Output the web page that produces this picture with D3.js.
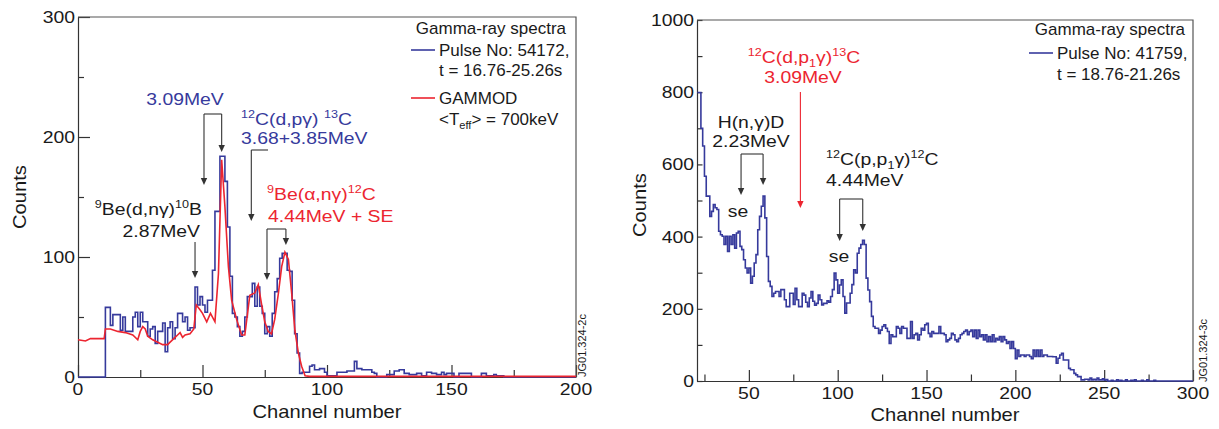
<!DOCTYPE html>
<html>
<head>
<meta charset="utf-8">
<script src="https://cdn.jsdelivr.net/npm/d3@7"></script>
<style>
  body { margin: 0; background: #fff; }
  svg { display: block; font-family: "Liberation Sans", Arial, Helvetica, sans-serif; }
</style>
</head>
<body>
<svg id="chart" width="1219" height="429"></svg>
<script>
// left panel: pulse 54172, one value per channel, channel 0..199
const leftCounts = [
  0, 0, 0, 0, 0, 0, 0, 0, 0, 0,
  0, 58, 58, 43, 52, 52, 52, 39, 50, 38,
  38, 38, 50, 54, 42, 54, 46, 46, 34, 40,
  42, 28, 38, 38, 45, 21, 41, 46, 32, 41,
  53, 53, 46, 50, 39, 41, 41, 75, 60, 67,
  60, 54, 64, 64, 89, 138, 138, 184, 184, 163,
  125, 84, 53, 50, 42, 34, 38, 50, 67, 67,
  78, 59, 75, 59, 53, 36, 42, 34, 53, 71,
  82, 99, 103, 103, 89, 88, 64, 36, 20, 3,
  4, 4, 4, 9, 10, 6, 6, 7, 7, 4,
  1, 1, 1, 1, 4, 4, 4, 4, 5, 5,
  5, 13, 7, 7, 6, 6, 6, 6, 4, 3,
  0, 0, 0, 0, 2, 2, 2, 5, 5, 6,
  6, 3, 3, 2, 2, 2, 3, 3, 1, 1,
  4, 4, 3, 3, 2, 2, 4, 2, 3, 3,
  3, 0, 0, 3, 3, 3, 3, 3, 0, 0,
  0, 0, 3, 3, 1, 1, 1, 2, 1, 1,
  1, 0, 0, 0, 0, 0, 0, 0, 0, 0,
  0, 0, 0, 0, 0, 0, 0, 0, 0, 0,
  0, 0, 0, 0, 0, 0, 0, 0, 0, 0
]

// GAMMOD model curve
const gammodChannels = [0, 3, 5, 8, 10.5, 11, 13, 16, 19, 22, 24, 25, 26, 27, 28, 30, 32, 34, 36, 37,
  39, 40, 41, 42, 43, 45, 46.5, 47.5, 49, 50, 51.7, 53.2, 55, 56.4, 57.7, 59, 60.4, 61.7, 63.7, 65.7,
  67, 69, 71, 72.4, 73.7, 75, 76.4, 77.7, 79, 80.5, 81.8, 83.1, 84.5, 85.8, 87.1, 88.5, 89.8, 91.2, 93, 200]
const gammodCounts = [31, 30, 32, 32, 32, 40, 40, 38, 37, 35, 31, 38, 42, 40, 34, 31, 29, 27, 27, 29,
  33, 35, 37, 33, 35, 36, 40, 60, 56, 53, 46, 53, 46, 86, 181, 142, 92, 64, 48, 35,
  35, 68, 70, 77, 61, 46, 38, 36, 48, 70, 92, 104, 98, 70, 39, 20, 9, 1, 0.5, 0.5]

// right panel: pulse 41759, one value per channel, channel 21..299
const rightStart = 21
const rightCounts = [
  799, 799, 700, 651, 567, 512, 512, 456, 470, 489,
  480, 475, 415, 405, 401, 378, 401, 359, 401, 378,
  405, 368, 410, 415, 373, 364, 336, 313, 299, 313,
  271, 290, 327, 350, 419, 456, 484, 512, 452, 345,
  276, 262, 234, 243, 248, 248, 234, 253, 253, 225,
  206, 206, 243, 243, 212, 257, 225, 206, 206, 243,
  238, 218, 206, 230, 248, 221, 210, 215, 238, 225,
  211, 215, 215, 222, 218, 234, 253, 299, 280, 243,
  266, 280, 234, 188, 216, 216, 243, 267, 308, 299,
  354, 368, 378, 390, 378, 285, 252, 220, 179, 151,
  146, 146,
  132, 141, 151, 156, 146, 137, 104, 128, 123, 123,
  151, 146, 132, 151, 146, 146, 118, 118, 165, 118,
  128, 132, 114, 128, 146, 141, 156, 160, 132, 123,
  137, 132, 132, 132, 151, 132, 132, 128, 109, 114,
  118, 132, 128, 114, 109, 118, 128, 132, 137, 141,
  128, 137, 141, 123, 141, 118, 141, 123, 128, 114,
  128, 109, 123, 109, 128, 109, 118, 114, 123, 109,
  123, 114, 104, 109, 90, 109, 90, 62, 86, 68,
  72, 72, 68, 72, 72, 68, 62, 86, 68, 86,
  68, 86, 68, 72, 72, 68, 68, 68,
  67, 67, 49, 63, 72, 77, 58, 58, 58, 35,
  31, 31, 21, 17, 12, 12, 3, 3, 5, 5,
  3, 8, 3, 5, 3, 8, 3, 3, 6, 2,
  4, 0, 0, 2, 0, 0, 3, 0, 2, 0,
  0, 3, 0, 0, 2, 0, 3, 0, 0, 0,
  2, 0, 0, 3, 0, 0, 0, 2, 0, 0,
  0, 0, 0, 0, 0, 0, 0, 0, 0, 0,
  0, 0, 0, 0, 0, 0, 0, 0, 0
]

const leftXTicks = [0, 50, 100, 150, 200]
const leftXMinor = [25, 75, 125, 175]
const leftYTicks = [0, 100, 200, 300]
const leftYMinor = [50, 150, 250]
const rightXTicks = [50, 100, 150, 200, 250, 300]
const rightXMinor = [25, 75, 125, 175, 225, 275]
const rightYTicks = [0, 200, 400, 600, 800, 1000]
const rightYMinor = [100, 300, 500, 700, 900]

const BLUE = '#363a9c'
const RED = '#ec2530'
const INK = '#1a1a1a'
const AXIS = '#333'

const svg = d3.select('#chart')

const xL = d3.scaleLinear().domain([0, 200]).range([78, 576])
const yL = d3.scaleLinear().domain([0, 300]).range([377, 17])
const xR = d3.scaleLinear().domain([20.8, 300]).range([697, 1193])
const yR = d3.scaleLinear().domain([0, 1000]).range([381, 20])

// text with ^{sup} and _{sub} parts
const label = (x, y, str, o = {}) => {
  const size = o.size || 17
  const t = svg.append('text')
    .attr('transform', `translate(${x},${y}) rotate(${o.rotate || 0}) scale(${o.sx || 1},1)`)
    .attr('text-anchor', o.anchor || 'start')
    .attr('font-size', size)
    .attr('fill', o.color || INK)
  let cur = 0
  str.split(/(\^\{[^}]*\}|_\{[^}]*\})/).filter(s => s).forEach(s => {
    let target = 0
    let txt = s
    if (s[0] === '^') { target = -0.42 * size; txt = s.slice(2, -1) }
    if (s[0] === '_') { target = 0.25 * size; txt = s.slice(2, -1) }
    const ts = t.append('tspan').attr('dy', target - cur).text(txt)
    if (target !== 0) ts.attr('font-size', size * 0.65)
    cur = target
  })
  return t
}

const axes = (x, y, o) => {
  const [x0, x1] = x.range()
  const [y0, y1] = y.range()
  const styleAxis = g => g.selectAll('path, line').attr('stroke', AXIS).attr('stroke-width', 1.2)

  svg.append('g').attr('transform', `translate(0,${y0})`)
    .call(d3.axisBottom(x).tickValues(o.xTicks).tickSizeInner(-o.xMajor).tickSizeOuter(0).tickFormat(''))
    .call(styleAxis)
  svg.append('g').attr('transform', `translate(0,${y0})`)
    .call(d3.axisBottom(x).tickValues(o.xMinor).tickSizeInner(-o.xMinorLen).tickSizeOuter(0).tickFormat(''))
    .call(g => g.select('.domain').remove())
    .call(styleAxis)
  svg.append('g').attr('transform', `translate(${x0},0)`)
    .call(d3.axisLeft(y).tickValues(o.yTicks).tickSizeInner(-o.yMajor).tickSizeOuter(0).tickFormat(''))
    .call(styleAxis)
  svg.append('g').attr('transform', `translate(${x0},0)`)
    .call(d3.axisLeft(y).tickValues(o.yMinor).tickSizeInner(-o.yMinorLen).tickSizeOuter(0).tickFormat(''))
    .call(g => g.select('.domain').remove())
    .call(styleAxis)

  // frame
  svg.append('path')
    .attr('d', `M${x0},${y1}H${x1}V${y0}`)
    .attr('fill', 'none').attr('stroke', '#555').attr('stroke-width', 1.2)

  o.xTicks.forEach(v => label(x(v), o.xLabelY, String(v), { anchor: 'middle', sx: 1.14 }))
  o.yTicks.forEach(v => label(x0 - 3, y(v) + 6, String(v), { anchor: 'end', sx: 1.14 }))
}

const histLine = (x, y) => d3.line()
  .x(d => x(d[0]))
  .y(d => y(d[1]))
  .curve(d3.curveStepAfter)

const arrow = (x, y1, y2, color) => {
  svg.append('line')
    .attr('x1', x).attr('x2', x).attr('y1', y1).attr('y2', y2 - 5)
    .attr('stroke', color).attr('stroke-width', 1.1)
  svg.append('path')
    .attr('d', `M${x - 3.2},${y2 - 7}L${x + 3.2},${y2 - 7}L${x},${y2}Z`)
    .attr('fill', color)
}

const bracket = (xa, xb, top, tipA, tipB) => {
  svg.append('line')
    .attr('x1', xa).attr('x2', xb).attr('y1', top).attr('y2', top)
    .attr('stroke', AXIS).attr('stroke-width', 1.1)
  arrow(xa, top, tipA, AXIS)
  if (tipB) arrow(xb, top, tipB, AXIS)
}

// ---------- left panel ----------
axes(xL, yL, {
  xTicks: leftXTicks, xMinor: leftXMinor, yTicks: leftYTicks, yMinor: leftYMinor,
  xMajor: 12, xMinorLen: 7, yMajor: 12, yMinorLen: 6, xLabelY: 395
})

const leftPts = leftCounts.map((v, i) => [i, v])
leftPts.push([leftCounts.length, leftCounts[leftCounts.length - 1]])
svg.append('path')
  .datum(leftPts)
  .attr('d', histLine(xL, yL))
  .attr('fill', 'none').attr('stroke', BLUE).attr('stroke-width', 1.6)

svg.append('path')
  .datum(gammodChannels.map((c, i) => [c, gammodCounts[i]]))
  .attr('d', d3.line().x(d => xL(d[0])).y(d => yL(d[1])))
  .attr('fill', 'none').attr('stroke', RED).attr('stroke-width', 1.6)

label(26, 197, 'Counts', { rotate: -90, anchor: 'middle', size: 18, sx: 1.12 })
label(327, 418, 'Channel number', { anchor: 'middle', size: 18, sx: 1.12 })
label(586, 377, 'JG01.324-2c', { rotate: -90, size: 11 })

// legend
label(566, 34, 'Gamma-ray spectra', { anchor: 'end' })
svg.append('line').attr('x1', 411).attr('x2', 435).attr('y1', 50).attr('y2', 50)
  .attr('stroke', BLUE).attr('stroke-width', 1.6)
label(439, 56, 'Pulse No: 54172,')
label(439, 76, 't = 16.76-25.26s')
svg.append('line').attr('x1', 411).attr('x2', 435).attr('y1', 98).attr('y2', 98)
  .attr('stroke', RED).attr('stroke-width', 1.6)
label(439, 104, 'GAMMOD')
label(439, 125, '<T_{eff}> = 700keV')

// annotations
label(185, 105, '3.09MeV', { anchor: 'middle', color: BLUE, sx: 1.14 })
bracket(xL(50.6), xL(57.7), 114, 185, 152)
label(241, 125, '^{12}C(d,pγ) ^{13}C', { color: BLUE, sx: 1.14 })
label(241, 144, '3.68+3.85MeV', { color: BLUE, sx: 1.14 })
bracket(xL(69.6), xL(76.3), 150, 221)
label(267, 200, '^{9}Be(α,nγ)^{12}C', { color: RED, sx: 1.14 })
label(268, 222, '4.44MeV + SE', { color: RED, sx: 1.14 })
bracket(xL(75.9), xL(83.5), 229, 280, 245)
label(202, 215, '^{9}Be(d,nγ)^{10}B', { anchor: 'end', sx: 1.14 })
label(200, 237, '2.87MeV', { anchor: 'end', sx: 1.14 })
arrow(xL(47), 242, 278, AXIS)

// ---------- right panel ----------
axes(xR, yR, {
  xTicks: rightXTicks, xMinor: rightXMinor, yTicks: rightYTicks, yMinor: rightYMinor,
  xMajor: 11, xMinorLen: 6.5, yMajor: 5.5, yMinorLen: 5.5, xLabelY: 399
})

const rightPts = rightCounts.map((v, i) => [rightStart + i, v])
rightPts.push([rightStart + rightCounts.length, rightCounts[rightCounts.length - 1]])
svg.append('path')
  .datum(rightPts)
  .attr('d', histLine(xR, yR))
  .attr('fill', 'none').attr('stroke', BLUE).attr('stroke-width', 1.6)

label(646, 205, 'Counts', { rotate: -90, anchor: 'middle', size: 18, sx: 1.12 })
label(945, 421, 'Channel number', { anchor: 'middle', size: 18, sx: 1.12 })
label(1207, 382, 'JG01.324-3c', { rotate: -90, size: 11 })

label(1185, 35, 'Gamma-ray spectra', { anchor: 'end' })
svg.append('line').attr('x1', 1029).attr('x2', 1053).attr('y1', 53).attr('y2', 53)
  .attr('stroke', BLUE).attr('stroke-width', 1.6)
label(1057, 59, 'Pulse No: 41759,')
label(1057, 80, 't = 18.76-21.26s')

label(804, 63, '^{12}C(d,p_{1}γ)^{13}C', { anchor: 'middle', color: RED, sx: 1.14 })
label(803, 83, '3.09MeV', { anchor: 'middle', color: RED, sx: 1.14 })
arrow(xR(79), 92, 208, RED)

label(751, 128, 'H(n,γ)D', { anchor: 'middle', sx: 1.14 })
label(751, 147, '2.23MeV', { anchor: 'middle', sx: 1.14 })
bracket(xR(45.6), xR(58), 154, 195, 185)
label(738, 217, 'se', { anchor: 'middle', sx: 1.14 })

label(826, 165, '^{12}C(p,p_{1}γ)^{12}C', { sx: 1.14 })
label(826, 186, '4.44MeV', { sx: 1.14 })
bracket(xR(101.1), xR(114.1), 199, 241, 231)
label(839, 262, 'se', { anchor: 'middle', sx: 1.14 })
</script>
</body>
</html>
